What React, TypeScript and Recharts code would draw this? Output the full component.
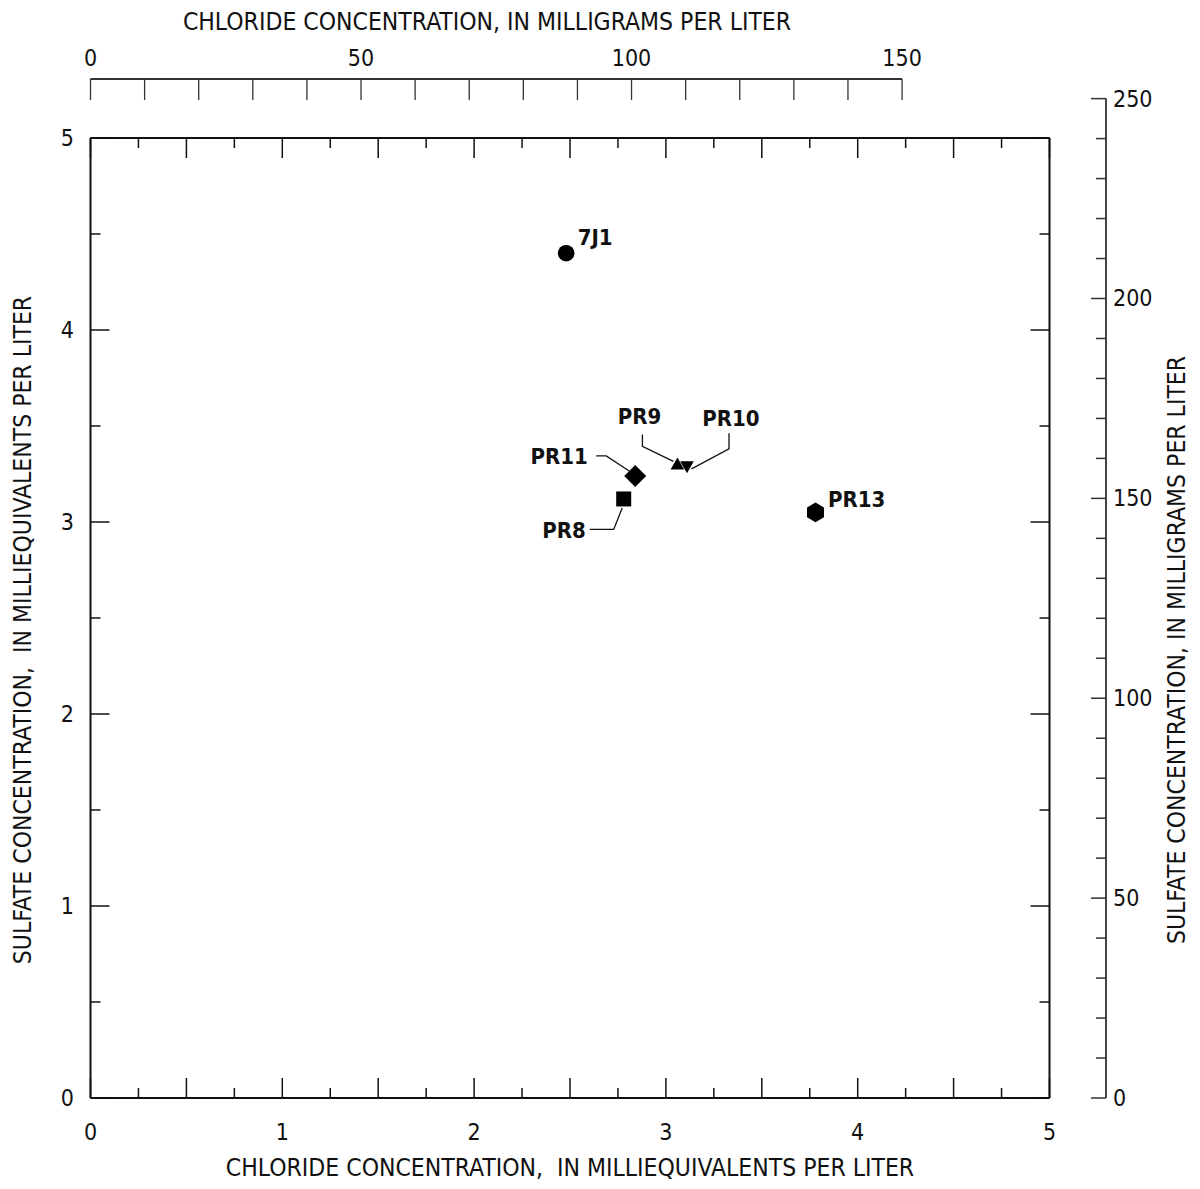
import { ScatterChart, Scatter, XAxis, YAxis } from 'recharts';

// station samples, values in milliequivalents per liter
const stations = ['7J1', 'PR8', 'PR9', 'PR10', 'PR11', 'PR13'];
const chlorideMeq = [2.48, 2.78, 3.06, 3.11, 2.84, 3.78];
const sulfateMeq = [4.4, 3.12, 3.3, 3.29, 3.24, 3.05];
const markerKinds = ['circle', 'square', 'triangleUp', 'triangleDown', 'diamond', 'hexagon'];

// axis ticks
const meqTicksX = [0, 0.25, 0.5, 0.75, 1, 1.25, 1.5, 1.75, 2, 2.25, 2.5, 2.75, 3, 3.25, 3.5, 3.75, 4, 4.25, 4.5, 4.75, 5];
const meqTicksY = [0, 0.5, 1, 1.5, 2, 2.5, 3, 3.5, 4, 4.5, 5];
const chlorideMgTicks = [0, 10, 20, 30, 40, 50, 60, 70, 80, 90, 100, 110, 120, 130, 140, 150];
const sulfateMgTicks = [0, 10, 20, 30, 40, 50, 60, 70, 80, 90, 100, 110, 120, 130, 140, 150, 160, 170, 180, 190, 200, 210, 220, 230, 240, 250];

// conversion factors mg/L per meq/L
const CL_MG_PER_MEQ = 35.45;
const SO4_MG_PER_MEQ = 48.03;

const W = 1184;
const H = 1173;
const PLOT = { left: 82.5, top: 130, right: 1041.5, bottom: 1090 };
const FONT = "'DejaVu Sans Condensed', 'DejaVu Sans', sans-serif";
const INK = '#111';
const MG_TOP_GAP = 59; // top mg/L axis line sits this far above the plot frame
const MG_RIGHT_X = 1098;

const isMult = (v: number, step: number) => Math.abs(v / step - Math.round(v / step)) < 1e-6;

const txt = { fontFamily: FONT, fontSize: 23, fill: INK, style: { fontStretch: 'condensed' } } as const;

// label placement relative to each marker
const labelLayout: Record<string, { dx: number; dy: number; anchor: string; leader?: number[][] }> = {
  '7J1': { dx: 11.5, dy: -8, anchor: 'start' },
  PR13: { dx: 12.5, dy: -5.5, anchor: 'start' },
  PR9: { dx: -38, dy: -40, anchor: 'middle', leader: [[-35, -30], [-35, -18], [-4, -3]] },
  PR10: { dx: 44, dy: -40, anchor: 'middle', leader: [[42, -33], [42, -17.5], [4.5, 2.5]] },
  PR11: { dx: -47.5, dy: -11.5, anchor: 'end', leader: [[-39, -20], [-29, -20], [-6, -5]] },
  PR8: { dx: -38, dy: 39, anchor: 'end', leader: [[-1.5, 9], [-10, 30.5], [-34, 30.5]] },
};

const Marker = (props: any) => {
  const { cx, cy, payload } = props;
  const kind = payload.kind;
  let mark: any = null;
  if (kind === 'circle') mark = <circle cx={cx} cy={cy} r={8.3} fill="#000" />;
  else if (kind === 'square') mark = <rect x={cx - 7.5} y={cy - 7.5} width={15} height={15} fill="#000" />;
  else if (kind === 'diamond')
    mark = <polygon points={`${cx},${cy - 11} ${cx + 11},${cy} ${cx},${cy + 11} ${cx - 11},${cy}`} fill="#000" />;
  else if (kind === 'triangleUp')
    mark = <polygon points={`${cx},${cy - 7} ${cx + 6.8},${cy + 5} ${cx - 6.8},${cy + 5}`} fill="#000" />;
  else if (kind === 'triangleDown')
    mark = <polygon points={`${cx},${cy + 7} ${cx + 6.8},${cy - 5} ${cx - 6.8},${cy - 5}`} fill="#000" />;
  else if (kind === 'hexagon') {
    const pts = [0, 1, 2, 3, 4, 5]
      .map((i) => {
        const a = (Math.PI / 3) * i - Math.PI / 2;
        return `${cx + 9.8 * Math.cos(a)},${cy + 9.8 * Math.sin(a)}`;
      })
      .join(' ');
    mark = <polygon points={pts} fill="#000" />;
  }
  const lay = labelLayout[payload.name];
  return (
    <g>
      {mark}
      {lay.leader && (
        <polyline
          points={lay.leader.map((p) => `${cx + p[0]},${cy + p[1]}`).join(' ')}
          fill="none"
          stroke={INK}
          strokeWidth={1.3}
        />
      )}
      <text x={cx + lay.dx} y={cy + lay.dy} textAnchor={lay.anchor as any} {...txt} fontSize={22} fontWeight="bold">
        {payload.name}
      </text>
    </g>
  );
};

const pxPerMgX = (PLOT.right - PLOT.left) / (5 * CL_MG_PER_MEQ);
const pxPerMgY = (PLOT.bottom - PLOT.top) / (5 * SO4_MG_PER_MEQ);

// one tick of the top chloride mg/L scale, drawn above the plot frame
const ChlorideMgMark = (props: any) => {
  const { cx, cy, payload } = props;
  const mg = payload.mg;
  const yLine = cy - MG_TOP_GAP;
  return (
    <g>
      {mg === 0 && <line x1={cx} x2={cx + 150 * pxPerMgX} y1={yLine} y2={yLine} stroke="#333" strokeWidth={2} />}
      <line x1={cx} x2={cx} y1={yLine} y2={yLine + 21} stroke="#333" strokeWidth={1.3} />
      {isMult(mg, 50) && (
        <text x={cx} y={yLine - 13} textAnchor="middle" {...txt}>
          {mg}
        </text>
      )}
    </g>
  );
};

const BottomTick = ({ payload }: any) => {
  const x = payload.coordinate;
  const v = Number(payload.value);
  const len = isMult(v, 0.5) ? 20 : 10;
  return (
    <g>
      <line x1={x} x2={x} y1={PLOT.bottom} y2={PLOT.bottom - len} stroke={INK} strokeWidth={1.5} />
      {isMult(v, 1) && (
        <text x={x} y={1132} textAnchor="middle" {...txt}>
          {v}
        </text>
      )}
    </g>
  );
};

const TopFrameTick = ({ payload }: any) => {
  const x = payload.coordinate;
  const len = isMult(Number(payload.value), 0.5) ? 20 : 10;
  return <line x1={x} x2={x} y1={PLOT.top} y2={PLOT.top + len} stroke={INK} strokeWidth={1.5} />;
};

const LeftTick = ({ payload }: any) => {
  const y = payload.coordinate;
  const v = Number(payload.value);
  const len = isMult(v, 1) ? 19 : 10;
  return (
    <g>
      <line x1={PLOT.left} x2={PLOT.left + len} y1={y} y2={y} stroke={INK} strokeWidth={1.5} />
      {isMult(v, 1) && (
        <text x={66} y={y + 8} textAnchor="end" {...txt}>
          {v}
        </text>
      )}
    </g>
  );
};

const RightFrameTick = ({ payload }: any) => {
  const y = payload.coordinate;
  const len = isMult(Number(payload.value), 1) ? 19 : 10;
  return <line x1={PLOT.right} x2={PLOT.right - len} y1={y} y2={y} stroke={INK} strokeWidth={1.5} />;
};

const SulfateMgTick = ({ payload }: any) => {
  const y = payload.coordinate;
  const v = Number(payload.value);
  const len = isMult(v, 50) ? 15 : 10;
  return (
    <g>
      {v === 0 && (
        <line x1={MG_RIGHT_X} x2={MG_RIGHT_X} y1={y} y2={y - 250 * pxPerMgY} stroke="#444" strokeWidth={2} />
      )}
      <line x1={MG_RIGHT_X} x2={MG_RIGHT_X - len} y1={y} y2={y} stroke="#333" strokeWidth={1.5} />
      {isMult(v, 50) && (
        <text x={1105} y={y + 8} textAnchor="start" {...txt}>
          {v}
        </text>
      )}
    </g>
  );
};

const Title = ({ x, y, rotate, children }: any) => (
  <text
    x={x}
    y={y}
    textAnchor="middle"
    transform={rotate ? `rotate(-90 ${x} ${y})` : undefined}
    fontFamily={FONT}
    fontSize={24.5}
    fill={INK}
    style={{ whiteSpace: 'pre', fontStretch: 'condensed' }}
  >
    {children}
  </text>
);

export default function App() {
  const points = stations.map((name, i) => ({
    name,
    x: chlorideMeq[i],
    y: sulfateMeq[i],
    kind: markerKinds[i],
  }));
  // chloride mg/L scale positions, placed on the top edge of the meq frame
  const mgScale = chlorideMgTicks.map((mg) => ({ x: mg / CL_MG_PER_MEQ, y: 5, mg }));

  return (
    <div style={{ width: W, height: H, background: '#fff' }}>
      <ScatterChart
        width={W}
        height={H}
        margin={{ top: PLOT.top - 1, left: PLOT.left - 1, right: W - PLOT.right - 2, bottom: H - PLOT.bottom - 1 }}
      >
        <XAxis
          xAxisId="meqTop"
          orientation="top"
          type="number"
          dataKey="x"
          domain={[0, 5]}
          ticks={meqTicksX}
          interval={0}
          height={1}
          tickLine={false}
          axisLine={{ stroke: INK, strokeWidth: 2 }}
          tick={(p: any) => <TopFrameTick {...p} />}
          label={{
            content: () => <Title x={479} y={22}>{'CHLORIDE CONCENTRATION, IN MILLIGRAMS PER LITER'}</Title>,
          }}
        />
        <XAxis
          xAxisId="meq"
          type="number"
          dataKey="x"
          domain={[0, 5]}
          allowDataOverflow
          ticks={meqTicksX}
          interval={0}
          height={1}
          tickLine={false}
          axisLine={{ stroke: INK, strokeWidth: 2 }}
          tick={(p: any) => <BottomTick {...p} />}
          label={{
            content: () => <Title x={562} y={1168}>{'CHLORIDE CONCENTRATION,  IN MILLIEQUIVALENTS PER LITER'}</Title>,
          }}
        />
        <YAxis
          yAxisId="meq"
          type="number"
          dataKey="y"
          domain={[0, 5]}
          allowDataOverflow
          ticks={meqTicksY}
          interval={0}
          width={1}
          tickLine={false}
          axisLine={{ stroke: INK, strokeWidth: 2 }}
          tick={(p: any) => <LeftTick {...p} />}
          label={{
            content: () => (
              <Title x={22.5} y={622} rotate>
                {'SULFATE CONCENTRATION,  IN MILLIEQUIVALENTS PER LITER'}
              </Title>
            ),
          }}
        />
        <YAxis
          yAxisId="meqRight"
          orientation="right"
          type="number"
          dataKey="y"
          domain={[0, 5]}
          ticks={meqTicksY}
          interval={0}
          width={1}
          tickLine={false}
          axisLine={{ stroke: INK, strokeWidth: 2 }}
          tick={(p: any) => <RightFrameTick {...p} />}
        />
        <YAxis
          yAxisId="so4Mg"
          orientation="right"
          type="number"
          domain={[0, 5 * SO4_MG_PER_MEQ]}
          allowDataOverflow
          ticks={sulfateMgTicks}
          interval={0}
          width={1}
          tickLine={false}
          axisLine={false}
          tick={(p: any) => <SulfateMgTick {...p} />}
          label={{
            content: () => (
              <Title x={1177} y={642} rotate>
                {'SULFATE CONCENTRATION, IN MILLIGRAMS PER LITER'}
              </Title>
            ),
          }}
        />
        <Scatter
          name="chloride mg/L scale"
          data={mgScale}
          xAxisId="meqTop"
          yAxisId="meqRight"
          shape={(p: any) => <ChlorideMgMark {...p} />}
          isAnimationActive={false}
        />
        {points.map((pt) => (
          <Scatter
            key={pt.name}
            name={pt.name}
            data={[pt]}
            xAxisId="meq"
            yAxisId="meq"
            shape={(p: any) => <Marker {...p} />}
            isAnimationActive={false}
          />
        ))}
      </ScatterChart>
    </div>
  );
}
